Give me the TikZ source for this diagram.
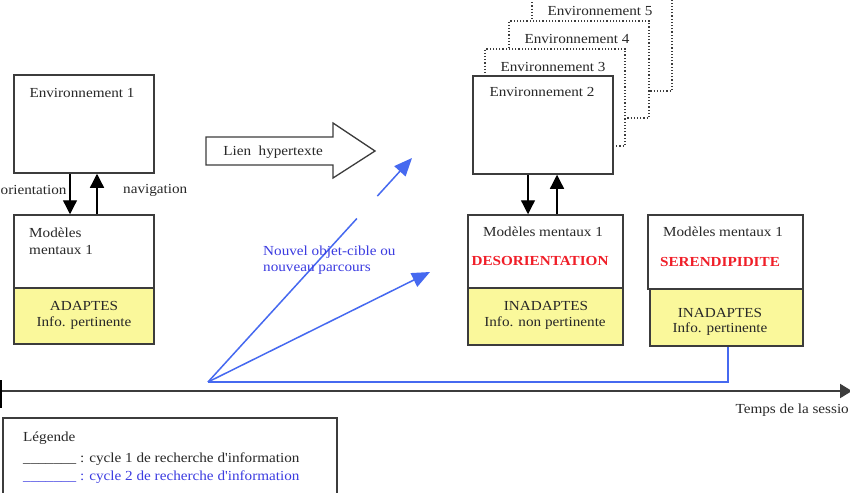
\documentclass[tikz,border=0pt]{standalone}
\usepackage{fontspec}
\setmainfont{Liberation Serif}[FakeStretch=1.1, Ligatures=TeXOff]
\usetikzlibrary{arrows.meta,calc}
\definecolor{bordergray}{RGB}{60,60,60}
\definecolor{txtgray}{RGB}{40,40,40}
\definecolor{lineblue}{RGB}{70,105,240}
\definecolor{txtblue}{RGB}{60,60,225}
\definecolor{boxyellow}{RGB}{250,248,155}
\definecolor{alertred}{RGB}{240,30,40}
\tikzset{
  box/.style={draw=bordergray, line width=1.5pt, fill=white, inner sep=0pt},
  ybox/.style={box, fill=boxyellow},
  dotbox/.style={draw=bordergray, dotted, line width=1.2pt, fill=white, inner sep=0pt},
  lbl/.style={text=txtgray, inner sep=0pt},
  redlbl/.style={text=alertred, inner sep=0pt, font=\fontsize{13.8}{16}\selectfont\bfseries},
  bluelbl/.style={text=txtblue, inner sep=0pt},
  blackarrow/.style={draw=black, line width=1.3pt, -{Triangle[length=14pt,width=14pt]}},
  bluearrow/.style={draw=lineblue, line width=1.5pt, -{Triangle[length=18pt,width=15pt]}},
  blueline/.style={draw=lineblue, line width=1.5pt},
}
\begin{document}
\begin{tikzpicture}[x=1pt, y=-1pt, font=\fontsize{13.8}{16.5}\selectfont]
\useasboundingbox (0,0) rectangle (850,492);
\clip (0,0) rectangle (850,492);
\fill[white] (0,0) rectangle (850,492);

% ---- left column
\node[box, minimum width=140pt, minimum height=98pt] (env1) at (84,124) {};
\node[lbl] (env1t) at (82,93) {Environnement 1};
\node[box, minimum width=140pt, minimum height=73pt] (mm1) at (84,251.5) {};
\node[ybox, minimum width=140pt, minimum height=56pt] (ad1) at (84,316) {};
\node[lbl, anchor=west] (mm1a) at (29,233) {Modèles};
\node[lbl, anchor=west] (mm1b) at (29,250) {mentaux 1};
\node[lbl] (ad1a) at (84,306) {ADAPTES};
\node[lbl] (ad1b) at (84,323) {Info. pertinente};
\draw[blackarrow] ([xshift=-14pt]env1.south) -- ([xshift=-14pt]env1.south |- mm1.north);
\draw[blackarrow] ([xshift=13pt]mm1.north) -- ([xshift=13pt]mm1.north |- env1.south);
\node[lbl, anchor=west] (orient) at (0.5,190) {orientation};
\node[lbl, anchor=west] (navig) at (123,190) {navigation};

% ---- hypertext arrow
\coordinate (la) at (206,137);
\draw[draw=bordergray, line width=1.3pt, fill=white]
  (la) -- ++(127,0) -- ++(0,-14) -- (375,151) -- (333,178) -- (333,165) -- (206,165) -- cycle;
\node[lbl] (lien) at (273,152) {Lien\ \ hypertexte};

% ---- right stacked environments
\node[dotbox, minimum width=140pt, minimum height=98pt] (env5) at (602,42) {};
\node[lbl] (env5t) at (600,11) {Environnement 5};
\node[dotbox, minimum width=140pt, minimum height=97pt] (env4) at (579,69.5) {};
\node[lbl] (env4t) at (577,39) {Environnement 4};
\node[dotbox, minimum width=140pt, minimum height=97pt] (env3) at (555,97.5) {};
\node[lbl] (env3t) at (553,67) {Environnement 3};
\node[box, minimum width=140pt, minimum height=98pt] (env2) at (543,125) {};
\node[lbl] (env2t) at (542,92) {Environnement 2};

\node[box, minimum width=155pt, minimum height=73pt] (mm2) at (545.5,251.5) {};
\node[ybox, minimum width=155pt, minimum height=57pt] (ad2) at (545.5,316.5) {};
\node[lbl] (mm2t) at (543,232) {Modèles mentaux 1};
\node[redlbl] (deso) at (540,261) {DESORIENTATION};
\node[lbl] (ad2a) at (546,306) {INADAPTES};
\node[lbl] (ad2b) at (545,323) {Info. non pertinente};
\draw[blackarrow] ([xshift=-15pt]env2.south) -- ([xshift=-15pt]env2.south |- mm2.north);
\draw[blackarrow] ([xshift=14pt]env2.south |- mm2.north) -- ([xshift=14pt]env2.south);

\node[box, minimum width=155pt, minimum height=74pt] (mm3) at (725.5,252) {};
\node[ybox, minimum width=153pt, minimum height=57pt] (ad3) at (726.5,317.5) {};
\node[lbl] (mm3t) at (723,232) {Modèles mentaux 1};
\node[redlbl] (seren) at (720,262) {SERENDIPIDITE};
\node[lbl] (ad3a) at (720,313) {INADAPTES};
\node[lbl] (ad3b) at (720,329) {Info. pertinente};

% ---- blue cycle 2
\coordinate (o) at (208,382);
\coordinate (t1) at (412,158);
\coordinate (t2) at (430,272);
\draw[blueline] (o) -- ($(o)!0.73!(t1)$);
\draw[bluearrow] ($(o)!0.83!(t1)$) -- (t1);
\draw[bluearrow] (o) -- (t2);
\draw[blueline] (o) -| ([xshift=1.5pt]ad3.south);
\node[bluelbl, anchor=west] (nouv1) at (263,252) {Nouvel objet-cible ou};
\node[bluelbl, anchor=west] (nouv2) at (263,270) {nouveau parcours};

% ---- timeline
\coordinate (tl0) at (0,391);
\coordinate (tl1) at (852,391);
\draw[draw=bordergray, line width=2pt, -{Triangle[length=12pt,width=14pt]}] (tl0) -- (tl1);
\coordinate (tk0) at (1,380);
\coordinate (tk1) at (1,408);
\draw[black, line width=2.5pt] (tk0) -- (tk1);
\node[lbl, anchor=east] (temps) at (849,410) {Temps de la sessio};

% ---- legend
\coordinate (lg0) at (3,418);
\coordinate (lg1) at (337,520);
\draw[draw=bordergray, line width=1.5pt] (lg0) rectangle (lg1);
\node[lbl, anchor=west] (leg) at (23,438) {Légende};
\node[lbl, anchor=west] (leg1) at (23,459) {\_\_\_\_\_\_\_ : cycle 1 de recherche d'information};
\node[bluelbl, anchor=west] (leg2) at (23,477) {\_\_\_\_\_\_\_ : cycle 2 de recherche d'information};
\end{tikzpicture}
\end{document}
